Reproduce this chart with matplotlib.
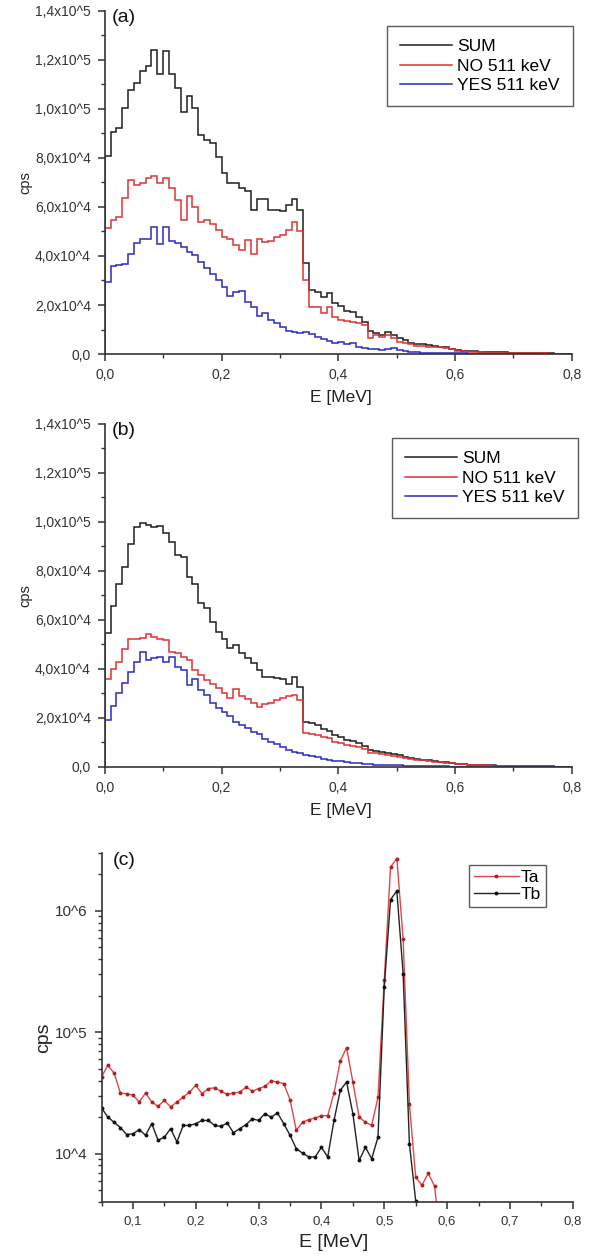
import numpy as np
import matplotlib.pyplot as plt
from matplotlib.ticker import MultipleLocator, FixedLocator, LogLocator, NullFormatter

plt.rcParams['font.family'] = ['Liberation Sans', 'DejaVu Sans']

# --- histogram data, 0.01 MeV bins from 0 to 0.8 MeV ---
a_sum = [80900, 90400, 92300, 100200, 107700, 110400, 115500, 117400, 124000, 114200,
         123600, 114200, 108300, 98800, 105200, 100200, 89300, 87300, 86200, 80500,
         73700, 69900, 69600, 67800, 66600, 58700, 63100, 63100, 58700, 58700,
         58300, 60800, 63100, 58700, 37000, 26100, 25400, 23400, 25000, 21000,
         19600, 17700, 17300, 15200, 13200, 9500, 8700, 7800, 9100, 7800,
         6400, 5700, 4600, 4100, 4100, 3500, 3300, 2700, 2700, 2200,
         1600, 1400, 1200, 1100, 1000, 800, 800, 700, 700, 500,
         500, 400, 400, 400, 300, 300, 300, 150, 150, 150]
a_no = [51300, 54600, 56000, 63500, 71000, 68900, 69900, 71600, 72700, 69600,
        71900, 67600, 62800, 54600, 64400, 59800, 53900, 54600, 53000, 50600,
        47800, 46800, 44400, 42400, 46500, 41000, 46800, 45800, 46200, 47600,
        48500, 50600, 53900, 50300, 30200, 19300, 19300, 16600, 19300, 15000,
        13900, 13500, 13200, 12800, 11800, 6400, 7800, 6800, 7800, 6400,
        5000, 4400, 4100, 3300, 3300, 2700, 2700, 2700, 2400, 2200,
        1400, 1100, 1000, 800, 700, 600, 600, 500, 500, 400,
        400, 300, 300, 300, 250, 250, 200, 200, 150, 150]
a_yes = [29500, 36000, 36300, 36600, 40800, 45400, 46800, 46800, 51700, 44700,
         51700, 46200, 45100, 43500, 41700, 40400, 37600, 34900, 32600, 30200,
         27200, 23500, 25300, 25800, 21400, 19300, 15500, 16900, 13900, 12800,
         11200, 9500, 9100, 8700, 9100, 8200, 7100, 6000, 5400, 4600,
         5000, 4100, 4400, 2700, 2300, 1900, 1900, 1600, 2200, 2300,
         1600, 1100, 800, 700, 500, 400, 400, 350, 300, 300,
         250, 250, 200, 200, 200, 150, 150, 150, 100, 100,
         100, 100, 100, 80, 80, 80, 60, 60, 50, 50]

b_sum = [54500, 65700, 74500, 81700, 91000, 97800, 99400, 98700, 97800, 98300,
         95600, 91900, 86500, 85600, 77400, 74700, 67000, 64700, 59300, 55200,
         52100, 48400, 49800, 46600, 44300, 42300, 39600, 36600, 36600, 36200,
         35800, 33900, 36600, 32800, 18500, 17800, 17000, 15500, 14800, 13000,
         12300, 11000, 10500, 9600, 8700, 7000, 6700, 6000, 5500, 5200,
         4700, 4000, 3600, 3300, 3000, 2700, 2300, 2100, 1900, 1700,
         1400, 1200, 1000, 900, 800, 700, 600, 550, 500, 450,
         400, 350, 300, 300, 250, 200, 200, 150, 150, 100]
b_no = [35800, 39900, 43000, 48000, 52100, 52100, 52500, 54100, 52900, 52100,
        51800, 47000, 46400, 45000, 43700, 39600, 37500, 35500, 33900, 32100,
        30100, 28000, 31700, 29000, 27600, 26000, 24600, 25700, 26000, 27300,
        28000, 29000, 29500, 27300, 14000, 13500, 13000, 12200, 11800, 10300,
        9900, 9000, 8700, 8000, 7400, 5800, 5700, 5100, 4700, 4600,
        4100, 3500, 3200, 3000, 2700, 2500, 2100, 1900, 1700, 1600,
        1300, 1100, 900, 800, 700, 600, 550, 500, 450, 400,
        350, 300, 300, 250, 250, 200, 200, 150, 150, 100]
b_yes = [19000, 24900, 30100, 34400, 38900, 43000, 47000, 43700, 44300, 45000,
         43000, 45000, 40900, 39600, 33500, 35800, 31400, 29400, 26000, 24000,
         22500, 20800, 18500, 17200, 15800, 14300, 13500, 11500, 10200, 9300,
         8100, 7000, 6200, 5600, 4800, 4600, 3900, 3400, 3000, 2600,
         2400, 2000, 1800, 1600, 1300, 1200, 1000, 900, 800, 700,
         600, 500, 450, 400, 350, 300, 250, 220, 200, 180,
         160, 150, 130, 120, 110, 100, 90, 80, 70, 60,
         60, 50, 50, 40, 40, 30, 30, 30, 20, 20]

hist_labels = ['SUM', 'NO 511 keV', 'YES 511 keV']
hist_yticks = [0, 2e4, 4e4, 6e4, 8e4, 1e5, 1.2e5, 1.4e5]
hist_yticklabels = ['0,0', '2,0x10^4', '4,0x10^4', '6,0x10^4', '8,0x10^4',
                    '1,0x10^5', '1,2x10^5', '1,4x10^5']
hist_xticks = [0.0, 0.2, 0.4, 0.6, 0.8]
hist_xticklabels = ['0,0', '0,2', '0,4', '0,6', '0,8']

# --- panel (c): Ta / Tb spectra ---
c_energy = [0.05, 0.06, 0.07, 0.08, 0.09, 0.10, 0.11, 0.12, 0.13, 0.14,
            0.15, 0.16, 0.17, 0.18, 0.19, 0.20, 0.21, 0.22, 0.23, 0.24,
            0.25, 0.26, 0.27, 0.28, 0.29, 0.30, 0.31, 0.32, 0.33, 0.34,
            0.35, 0.36, 0.37, 0.38, 0.39, 0.40, 0.41, 0.42, 0.43, 0.44,
            0.45, 0.46, 0.47, 0.48, 0.49, 0.50, 0.51, 0.52, 0.53, 0.54,
            0.55, 0.56, 0.57, 0.58, 0.59]
ta = [42900, 53500, 46200, 31600, 31200, 30300, 26700, 31600, 26700, 24600,
      27500, 24300, 26700, 29300, 32200, 36600, 31200, 34400, 34900, 32800,
      30800, 31600, 32200, 35400, 32800, 34400, 35900, 39700, 39000, 37800,
      27900, 15600, 18200, 19100, 19700, 20600, 20600, 31600, 58100, 74800,
      39000, 20000, 18200, 17100, 29300, 268000, 2.3e6, 2.7e6, 592000, 25800,
      6400, 5500, 6900, 5400, 2000]
tb = [23900, 20000, 18200, 16400, 14400, 14600, 15800, 14200, 17700, 12900,
      13700, 16100, 12500, 17100, 17100, 17700, 18800, 18800, 17100, 16800,
      17900, 14900, 16100, 17400, 19400, 18800, 21400, 20000, 21700, 17700,
      14200, 11000, 10100, 9400, 9400, 11300, 9400, 18800, 33300, 39000,
      21400, 8800, 11300, 9100, 13700, 237000, 1.24e6, 1.46e6, 305000, 12100,
      4100, 1000, None, None, None]
c_xticks = [0.1, 0.2, 0.3, 0.4, 0.5, 0.6, 0.7, 0.8]
c_xticklabels = ['0,1', '0,2', '0,3', '0,4', '0,5', '0,6', '0,7', '0,8']
c_yticks = [1e4, 1e5, 1e6]
c_yticklabels = ['10^4', '10^5', '10^6']

edges = np.linspace(0, 0.8, len(a_sum) + 1)
TXT = '#222222'
SPINE = '#333333'


def style_axes(ax, xsize, ysize):
    for s in ['top', 'right']:
        ax.spines[s].set_visible(False)
    for s in ['left', 'bottom']:
        ax.spines[s].set_color(SPINE)
        ax.spines[s].set_linewidth(1.2)
    ax.tick_params(which='major', direction='out', length=5, width=1.1, pad=5,
                   color=SPINE, labelcolor='#333333')
    ax.tick_params(which='minor', direction='out', length=3, width=1.0, color=SPINE)
    ax.tick_params(axis='x', labelsize=xsize)
    ax.tick_params(axis='y', labelsize=ysize)


def draw_hist(ax, s, no, yes, tag, leg_anchor):
    ax.stairs(s, edges, color='#1e1e1e', lw=1.1, label=hist_labels[0])
    ax.stairs(no, edges, color='#dd3333', lw=1.1, label=hist_labels[1])
    ax.stairs(yes, edges, color='#2a2ac0', lw=1.1, label=hist_labels[2])
    ax.set_xlim(0, 0.8)
    ax.set_ylim(0, 1.4e5)
    ax.yaxis.set_major_locator(FixedLocator(hist_yticks))
    ax.set_yticklabels(hist_yticklabels)
    ax.yaxis.set_minor_locator(MultipleLocator(1e4))
    ax.xaxis.set_major_locator(FixedLocator(hist_xticks))
    ax.set_xticklabels(hist_xticklabels)
    ax.xaxis.set_minor_locator(MultipleLocator(0.1))
    style_axes(ax, 10, 10)
    ax.set_ylabel('cps', fontsize=10.5, color=TXT)
    ax.yaxis.set_label_coords(-0.156, 0.5)
    ax.set_xlabel('E [MeV]', fontsize=12.5, color=TXT)
    ax.xaxis.set_label_coords(0.505, -0.105)
    ax.text(0.014, 0.979, tag, transform=ax.transAxes, fontsize=14,
            ha='left', va='center', color='#111111')
    leg = ax.legend(loc='upper right', bbox_to_anchor=leg_anchor,
                    fontsize=12.5, frameon=True, fancybox=False,
                    handlelength=3.0, handletextpad=0.3, borderpad=0.75,
                    labelspacing=0.25, borderaxespad=0.0)
    leg.get_frame().set_edgecolor('#333333')
    leg.get_frame().set_linewidth(1.0)


fig = plt.figure(figsize=(5.92, 12.6), dpi=100)
ax_a = fig.add_axes([0.177, 0.719, 0.789, 0.2725])
ax_b = fig.add_axes([0.177, 0.3913, 0.789, 0.2725])
ax_c = fig.add_axes([0.1715, 0.046, 0.796, 0.277])

draw_hist(ax_a, a_sum, a_no, a_yes, '(a)', (1.002, 0.955))
draw_hist(ax_b, b_sum, b_no, b_yes, '(b)', (1.013, 0.958))

# panel (c)
ta_arr = np.array(ta, dtype=float)
tb_arr = np.array([np.nan if v is None else v for v in tb], dtype=float)
ax_c.plot(c_energy, ta_arr, color='#e04848', lw=1.0, marker='o', ms=1.8,
          mfc='#b02020', mec='#b02020', label='Ta')
ax_c.plot(c_energy, tb_arr, color='#222222', lw=1.0, marker='o', ms=1.8,
          mfc='#111111', mec='#111111', label='Tb')
ax_c.set_yscale('log')
ax_c.set_xlim(0.05, 0.8)
ax_c.set_ylim(4e3, 3e6)
ax_c.xaxis.set_major_locator(FixedLocator(c_xticks))
ax_c.set_xticklabels(c_xticklabels)
ax_c.xaxis.set_minor_locator(MultipleLocator(0.05))
ax_c.yaxis.set_major_locator(FixedLocator(c_yticks))
ax_c.set_yticklabels(c_yticklabels)
ax_c.yaxis.set_minor_locator(LogLocator(base=10, subs=np.arange(2, 10)))
ax_c.yaxis.set_minor_formatter(NullFormatter())
style_axes(ax_c, 9.5, 11)
ax_c.set_ylabel('cps', fontsize=14, color=TXT)
ax_c.yaxis.set_label_coords(-0.105, 0.47)
ax_c.set_xlabel('E [MeV]', fontsize=14, color=TXT)
ax_c.xaxis.set_label_coords(0.493, -0.093)
ax_c.text(0.024, 0.98, '(c)', transform=ax_c.transAxes, fontsize=14,
          ha='left', va='center', color='#111111')
leg_c = ax_c.legend(loc='upper left', bbox_to_anchor=(0.779, 0.966), fontsize=12.5,
                    frameon=True, fancybox=False, handlelength=2.6,
                    handletextpad=0.1, borderpad=0.3, labelspacing=0.1,
                    borderaxespad=0.0)
leg_c.get_frame().set_edgecolor('#333333')
leg_c.get_frame().set_linewidth(1.0)

fig.savefig('out.png', dpi=100)
